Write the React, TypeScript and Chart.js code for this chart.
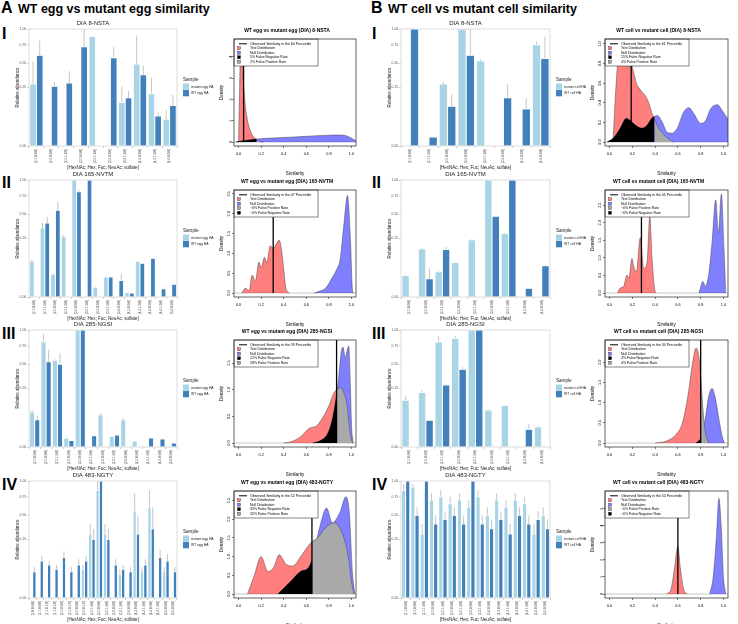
import React, { useEffect, useRef } from 'react';
import { Chart, registerables } from 'chart.js';
Chart.register(...registerables);

const FONT = "'Liberation Sans', Arial, sans-serif";
Chart.defaults.font.family = FONT;

const LIGHT = '#a9d4e6';
const DARK = '#4180ba';

// ---------------- Bar chart data (relative abundance; err = extent above bar) ----------------
const A1_CATS = ['[2,1,0,0,0]', '[2,2,0,0,0]', '[2,2,1,0,0]', '[3,2,0,0,0]', '[3,2,1,0,0]', '[3,3,0,0,0]', '[3,3,1,0,0]', '[4,3,0,0,0]', '[4,3,1,0,0]', '[4,4,0,0,0]'];
const A1_MUT = [0.28, null, null, null, 0.88, null, 0.14, 0.49, 0.2, 0.052];
const A1_MUT_ERR = [0.24, null, null, null, 0, null, 0.12, 0.4, 0.14, 0.043];
const A1_WT = [0.6, 0.26, 0.29, 0.72, null, 0.57, 0.17, 0.37, 0.066, 0.12];
const A1_WT_ERR = [0.21, 0.04, 0.12, 0.28, null, 0.15, 0.05, 0.1, 0.015, 0.07];

const A2_CATS = ['[2,1,0,0,0]', '[2,1,1,0,0]', '[2,2,0,0,0]', '[2,2,1,0,0]', '[3,2,0,0,0]', '[3,2,1,0,0]', '[3,3,0,0,0]', '[3,3,1,0,0]', '[3,4,0,0,0]', '[4,3,0,0,0]', '[4,3,1,0,0]', '[4,4,0,0,0]', '[4,4,1,0,0]', '[5,4,0,0,0]'];
const A2_MUT = [0.094, 0.35, 0.038, 0.27, 1.0, null, 0.007, 0.029, null, 0.0014, 0.092, null, null, null];
const A2_MUT_ERR = [0.01, 0.05, 0.004, 0.012, 0, null, 0.0015, 0.002, null, 0, 0.003, null, null, null];
const A2_WT = [null, 0.4, 0.55, null, 0.81, 1.0, null, 0.029, 0.02, 0.0012, 0.083, 0.11, 0.005, 0.012];
const A2_WT_ERR = [null, 0.07, 0.11, null, 0.035, 0, null, 0.002, 0.02, 0, 0, 0, 0, 0];

const A3_CATS = ['[2,1,0,0,0]', '[2,2,0,0,0]', '[2,2,1,0,0]', '[2,3,0,0,0]', '[3,2,0,0,0]', '[3,2,1,0,0]', '[3,3,0,0,0]', '[3,3,1,0,0]', '[3,4,0,0,0]', '[4,3,0,0,0]', '[4,3,1,0,0]', '[4,4,0,0,0]', '[5,4,0,0,0]'];
const A3_MUT = [0.089, 0.81, 0.55, 0.0055, 1.0, null, 0.076, 0.0083, 0.054, 0.0026, null, null, null];
const A3_MUT_ERR = [0.009, 0.12, 0.013, 0.001, 0, null, 0.008, 0, 0.008, 0, null, null, null];
const A3_WT = [0.054, 0.53, 0.5, 0.0032, 1.0, 0.0093, null, 0.0105, null, null, 0.0059, 0.0046, 0.0012];
const A3_WT_ERR = [0.017, 0.16, 0.14, 0, 0, 0, null, 0, null, null, 0, 0.001, 0];

const A4_CATS = ['[1,0,0,0,0]', '[1,1,0,0,0]', '[1,1,0,1,0]', '[1,1,0,2,0]', '[2,1,0,0,0]', '[2,1,0,1,0]', '[2,2,0,0,0]', '[2,2,0,1,0]', '[2,2,1,0,0]', '[3,2,0,0,0]', '[3,2,1,0,0]', '[3,3,0,0,0]', '[3,3,1,0,0]', '[3,4,0,0,0]', '[4,3,0,0,0]', '[4,3,1,0,0]', '[4,4,0,0,0]', '[4,4,1,0,0]', '[5,4,0,0,0]', '[5,5,0,0,0]'];
const A4_MUT = [null, null, null, null, null, null, null, 0.06, 0.3, 0.85, 0.3, null, 0.04, null, 0.55, 0.05, 0.6, null, 0.05, null];
const A4_MUT_ERR = [null, null, null, null, null, null, null, 0.02, 0.1, 0.15, 0.1, null, 0.02, null, 0.25, 0.02, 0.25, null, 0.02, null];
const A4_WT = [0.05, 0.1, 0.08, 0.06, 0.12, 0.05, 0.08, 0.1, 0.25, 1.0, 0.25, 0.08, 0.06, 0.05, 0.3, 0.08, 0.35, 0.12, 0.1, 0.05];
const A4_WT_ERR = [0.02, 0.03, 0.02, 0.02, 0.04, 0.02, 0.03, 0.03, 0.1, 0, 0.1, 0.03, 0.02, 0.02, 0.2, 0.03, 0.25, 0.05, 0.04, 0.02];

const B1_CATS = ['[2,1,0,0,0]', '[2,1,1,0,0]', '[2,2,0,0,0]', '[3,2,0,0,0]', '[3,2,1,0,0]', '[3,3,0,0,0]', '[4,3,0,0,0]', '[4,4,0,0,0]'];
const B1_MUT = [null, null, 0.28, 1.0, 0.53, null, null, 0.75];
const B1_MUT_ERR = [null, null, 0.02, 0, 0.02, null, null, 0.04];
const B1_WT = [1.0, 0.006, 0.116, 0.6, null, 0.17, 0.1, 0.56];
const B1_WT_ERR = [0, 0, 0.08, 0.4, null, 0.11, 0.067, 0.31];

const B2_CATS = ['[2,1,0,0,0]', '[2,2,0,0,0]', '[2,2,1,0,0]', '[3,2,0,0,0]', '[3,2,1,0,0]', '[3,3,0,0,0]', '[3,3,1,0,0]', '[4,3,0,0,0]', '[4,4,0,0,0]'];
const B2_MUT = [0.034, 0.17, 0.047, 0.087, 0.239, 1.0, 0.294, null, null];
const B2_MUT_ERR = [0.003, 0.005, 0.003, 0.003, 0.006, 0, 0.008, null, null];
const B2_WT = [null, 0.024, 0.165, null, null, 0.476, 1.0, 0.0055, 0.071];
const B2_WT_ERR = [null, 0.034, 0.019, null, null, 0.01, 0, 0, 0.004];

const B3_CATS = ['[2,1,0,0,0]', '[2,2,0,0,0]', '[2,2,1,0,0]', '[3,2,0,0,0]', '[3,2,1,0,0]', '[3,3,0,0,0]', '[3,3,1,0,0]', '[4,3,0,0,0]', '[4,4,0,0,0]'];
const B3_MUT = [0.16, 0.217, 0.805, 0.862, 1.0, 0.1, 0.126, null, 0.029];
const B3_MUT_ERR = [0.024, 0.019, 0.095, 0.043, 0, 0.003, 0.003, null, 0.003];
const B3_WT = [null, 0.052, 0.28, 0.443, 1.0, null, null, 0.023, null];
const B3_WT_ERR = [null, 0, 0.015, 0.023, 0, null, null, 0.015, null];

const B4_CATS = ['[1,1,0,0,0]', '[2,1,0,0,0]', '[2,1,1,0,0]', '[2,2,0,0,0]', '[2,2,1,0,0]', '[3,2,0,0,0]', '[3,2,1,0,0]', '[3,3,0,0,0]', '[3,3,1,0,0]', '[3,4,0,0,0]', '[4,3,0,0,0]', '[4,3,1,0,0]', '[4,4,0,0,0]', '[4,4,1,0,0]', '[5,4,0,0,0]', '[5,5,0,0,0]'];
const B4_MUT = [0.85, 0.9, 0.3, 0.7, 0.75, 0.65, 0.7, 0.6, 0.75, 0.5, 0.7, 0.6, 0.7, 0.65, 0.3, 0.5];
const B4_MUT_ERR = [0.1, 0.05, 0.1, 0.1, 0.1, 0.1, 0.1, 0.1, 0.1, 0.1, 0.1, 0.1, 0.1, 0.1, 0.1, 0.1];
const B4_WT = [1.0, 0.5, 1.0, 0.4, 0.45, 0.5, 0.4, 1.0, 0.4, 0.35, 0.45, 0.3, 0.5, 0.4, 0.45, 0.35];
const B4_WT_ERR = [0, 0.1, 0, 0.1, 0.1, 0.1, 0.1, 0, 0.1, 0.1, 0.1, 0.1, 0.1, 0.1, 0.1, 0.1];

// ---------------- Density data: [similarity, density] ----------------
const A1_TEST = [[0, 0], [0.01, 2.6], [0.02, 4.6], [0.03, 4.1], [0.04, 3.1], [0.05, 2.3], [0.06, 1.7], [0.08, 1.0], [0.1, 0.6], [0.12, 0.35], [0.14, 0.2], [0.16, 0.1], [0.18, 0.04], [0.2, 0.01], [0.22, 0]];
const A1_NULL = [[-0.02, 0], [0, 0.02], [0.05, 0.06], [0.1, 0.1], [0.16, 0.14], [0.2, 0.16], [0.3, 0.19], [0.4, 0.21], [0.5, 0.24], [0.6, 0.27], [0.7, 0.3], [0.8, 0.32], [0.88, 0.33], [0.95, 0.3], [1.0, 0.18], [1.04, 0.06]];
const A2_TEST = [[0.03, 0], [0.06, 0.12], [0.095, 0.06], [0.12, 0.45], [0.15, 0.3], [0.18, 0.78], [0.2, 0.64], [0.23, 0.9], [0.25, 0.76], [0.28, 1.19], [0.31, 1.13], [0.34, 1.27], [0.36, 1.33], [0.38, 1.1], [0.4, 0.6], [0.42, 0.12], [0.45, 0]];
const A2_NULL = [[0.67, 0], [0.72, 0.05], [0.77, 0.12], [0.84, 0.44], [0.87, 0.6], [0.9, 0.85], [0.93, 1.65], [0.965, 2.46], [0.99, 1.4], [1.01, 0.04], [1.02, 0]];
const A3_TEST = [[0.4, 0], [0.46, 0.02], [0.55, 0.12], [0.63, 0.28], [0.69, 0.32], [0.74, 0.46], [0.8, 0.7], [0.84, 0.92], [0.868, 1.0], [0.9, 1.04], [0.93, 0.95], [0.96, 0.7], [0.98, 0.3], [1.0, 0.05], [1.01, 0]];
const A3_NULL = [[0.66, 0], [0.72, 0.04], [0.78, 0.14], [0.82, 0.35], [0.85, 0.65], [0.868, 0.9], [0.89, 1.3], [0.91, 1.72], [0.925, 1.8], [0.945, 1.6], [0.96, 1.72], [0.975, 1.82], [0.99, 1.1], [1.0, 0.35], [1.015, 0]];
const A4_TEST = [[0.08, 0], [0.14, 0.5], [0.2, 1.0], [0.26, 0.6], [0.31, 0.7], [0.36, 1.05], [0.42, 0.8], [0.48, 0.75], [0.55, 1.0], [0.62, 1.3], [0.65, 1.4], [0.7, 1.5], [0.78, 1.8], [0.85, 1.9], [0.92, 1.6], [0.97, 1.0], [1.0, 0.3], [1.02, 0]];
const A4_NULL = [[0.35, 0], [0.45, 0.3], [0.55, 0.6], [0.62, 0.7], [0.65, 0.9], [0.72, 1.8], [0.78, 2.3], [0.83, 1.9], [0.9, 2.2], [0.95, 2.6], [0.98, 2.2], [1.01, 0.5], [1.03, 0]];
const B1_TEST = [[0.03, 0], [0.035, 0.1], [0.05, 0.44], [0.07, 0.78], [0.1, 0.92], [0.13, 0.95], [0.17, 0.76], [0.19, 0.79], [0.21, 0.72], [0.235, 0.6], [0.26, 0.55], [0.285, 0.51], [0.315, 0.47], [0.344, 0.4], [0.37, 0.3], [0.394, 0.24], [0.42, 0.16], [0.48, 0.07], [0.535, 0.015], [0.56, 0]];
const B1_NULL = [[-0.02, 0], [0.035, 0.04], [0.094, 0.14], [0.147, 0.24], [0.18, 0.22], [0.24, 0.16], [0.285, 0.14], [0.33, 0.17], [0.37, 0.24], [0.394, 0.26], [0.42, 0.27], [0.46, 0.21], [0.506, 0.1], [0.55, 0.09], [0.594, 0.14], [0.653, 0.31], [0.697, 0.35], [0.74, 0.29], [0.8, 0.19], [0.844, 0.22], [0.888, 0.34], [0.947, 0.38], [0.99, 0.32], [1.035, 0.24], [1.06, 0.18]];
const B2_TEST = [[0.07, 0], [0.094, 0.14], [0.124, 0.19], [0.153, 0.51], [0.17, 0.42], [0.197, 0.98], [0.21, 0.79], [0.235, 0.6], [0.27, 1.58], [0.3, 0.7], [0.33, 0.88], [0.353, 2.18], [0.373, 0.98], [0.397, 0.09], [0.41, 0]];
const B2_NULL = [[0.785, 0], [0.82, 0.33], [0.84, 0.19], [0.87, 0.51], [0.9, 1.44], [0.932, 2.65], [0.956, 1.72], [0.982, 2.82], [1.006, 1.16], [1.02, 0]];
const B3_TEST = [[0.4, 0], [0.5, 0.05], [0.58, 0.2], [0.64, 0.5], [0.69, 1.2], [0.73, 2.0], [0.76, 2.35], [0.79, 2.0], [0.8, 1.6], [0.82, 0.8], [0.84, 0.25], [0.87, 0]];
const B3_NULL = [[0.76, 0], [0.8, 0.1], [0.84, 0.6], [0.87, 1.15], [0.9, 1.35], [0.93, 1.1], [0.96, 0.6], [0.99, 0.15], [1.01, 0]];
const B4_TEST = [[0.5, 0], [0.54, 0.3], [0.57, 1.5], [0.6, 2.8], [0.62, 1.6], [0.65, 0.3], [0.68, 0]];
const B4_NULL = [[0.88, 0], [0.91, 1.0], [0.94, 3.5], [0.96, 5.6], [0.98, 4.0], [1.0, 1.0], [1.02, 0]];

const YMAX = [4.65, 2.5, 1.86, 2.65, 1.01, 2.82, 2.45, 5.8];
const YTICKS = [[0, 1, 2, 3, 4], [0, 0.5, 1, 1.5, 2, 2.5], [0, 0.5, 1, 1.5], [0, 0.5, 1, 1.5, 2, 2.5], [0, 0.2, 0.4, 0.6, 0.8, 1.0], [0, 0.5, 1, 1.5, 2, 2.5], [0, 0.5, 1, 1.5, 2], [0, 1, 2, 3, 4, 5]];
const YDEC = [0, 1, 1, 1, 1, 1, 1, 0];
const OBS = [0.045, 0.307, 0.868, 0.65, 0.19, 0.28, 0.8, 0.6];
const THR = [0.16, 0.55, 0.868, 0.65, 0.394, 0.6, 0.8, 0.8];
const PCT = [60, 47, 59, 52, 61, 45, 34, 50];
const FN = ['5% False Negative Rate', '~0% False Negative Rate', '12% False Negative Rate', '33% False Negative Rate', '15% False Negative Rate', '~0% False Negative Rate', '4% False Negative Rate', '~0% False Negative Rate'];
const FP = ['2% False Positive Rate', '~0% False Positive Rate', '28% False Positive Rate', '32% False Positive Rate', '4% False Positive Rate', '~0% False Positive Rate', '4% False Positive Rate', '~0% False Positive Rate'];
const FP_FIRST = [false, true, false, false, false, true, false, true];
const SITES = ['8-NSTA', '165-NVTM', '285-NGSI', '483-NGTY'];

const X_TICKS = [0, 0.2, 0.4, 0.6, 0.8, 1.0];

// ---------------- layout ----------------
const BAR_TOP = [29, 180, 330, 481];
const DEN_TOP = [39, 190, 340, 491];
const BAR_H = 117;
const DEN_H = 107;

function barPlugin(vals: any[][], errs: any[][], labels: string[]) {
  return {
    id: 'barExtras',
    afterDatasetsDraw(chart: any) {
      const ctx = chart.ctx;
      const ys = chart.scales.y;
      ctx.save();
      ctx.strokeStyle = '#b8b8b8';
      ctx.lineWidth = 0.8;
      vals.forEach((arr, di) => {
        const meta = chart.getDatasetMeta(di);
        arr.forEach((v: any, i: number) => {
          const e = errs[di][i];
          if (v == null || !e) return;
          const el = meta.data[i];
          const yTop = ys.getPixelForValue(Math.sqrt(Math.min(1, v + e)));
          ctx.beginPath();
          ctx.moveTo(el.x, el.y);
          ctx.lineTo(el.x, yTop);
          ctx.stroke();
        });
      });
      ctx.restore();
    },
    afterDraw(chart: any) {
      const ctx = chart.ctx;
      const a = chart.chartArea;
      ctx.save();
      ctx.strokeStyle = '#d4d4d4';
      ctx.lineWidth = 0.8;
      ctx.strokeRect(a.left, a.top, a.right - a.left, a.bottom - a.top);
      const lx = a.right + 6;
      const my = (a.top + a.bottom) / 2;
      ctx.textBaseline = 'middle';
      ctx.textAlign = 'left';
      ctx.fillStyle = '#222';
      ctx.font = `4.6px ${FONT}`;
      ctx.fillText('Sample', lx, my - 7.5);
      ctx.fillStyle = LIGHT;
      ctx.fillRect(lx, my - 4, 6, 6.3);
      ctx.fillStyle = DARK;
      ctx.fillRect(lx, my + 2.5, 6, 6.3);
      ctx.fillStyle = '#222';
      ctx.font = `3.4px ${FONT}`;
      ctx.fillText(labels[0], lx + 8, my - 0.85);
      ctx.fillText(labels[1], lx + 8, my + 5.65);
      ctx.restore();
    },
  };
}

function BarPanel(props: any) {
  const { plotLeft, plotTop, plotWidth, title, cats, mut, mutErr, wt, wtErr, labels } = props;
  const WY = 20, HT = 11, HX = 24, LEGW = 44;
  const W = WY + plotWidth + LEGW;
  const H = HT + BAR_H + HX;
  const ref = useRef<HTMLCanvasElement>(null);
  useEffect(() => {
    const sq = (arr: any[]) => arr.map((v) => (v == null ? null : Math.sqrt(v)));
    const chart = new Chart(ref.current as HTMLCanvasElement, {
      type: 'bar',
      data: {
        labels: cats,
        datasets: [
          { label: labels[0], data: sq(mut), backgroundColor: LIGHT, borderColor: 'rgba(255,255,255,0.85)', borderWidth: 0.5, categoryPercentage: 0.9, barPercentage: 1.0 },
          { label: labels[1], data: sq(wt), backgroundColor: DARK, borderColor: 'rgba(255,255,255,0.85)', borderWidth: 0.5, categoryPercentage: 0.9, barPercentage: 1.0 },
        ],
      } as any,
      options: {
        animation: false,
        responsive: false,
        maintainAspectRatio: false,
        events: [],
        layout: { padding: { left: 0, right: LEGW, top: 0, bottom: 0 } },
        plugins: {
          legend: { display: false },
          tooltip: { enabled: false },
          title: { display: true, text: title, color: '#222', font: { size: 6, weight: 'normal', lineHeight: 1 }, padding: { top: 2, bottom: 3 } },
        },
        scales: {
          x: {
            type: 'category',
            afterFit: (s: any) => { s.height = HX; },
            grid: { display: true, drawOnChartArea: false, tickLength: 2, color: '#999', lineWidth: 0.5 },
            border: { display: false },
            ticks: { autoSkip: false, minRotation: 90, maxRotation: 90, padding: 1, color: '#555', font: { size: 3.2, lineHeight: 1 } },
            title: { display: true, text: '[HexNAc; Hex; Fuc; NeuAc; sulfate]', color: '#222', font: { size: 4.5, lineHeight: 1 }, padding: { top: 0, bottom: 0 } },
          },
          y: {
            type: 'linear',
            min: 0,
            max: 1,
            afterFit: (s: any) => { s.width = WY; },
            afterBuildTicks: (s: any) => { s.ticks = [0, 0.25, 0.5, 0.75, 1].map((v) => ({ value: Math.sqrt(v) })); },
            grid: { display: true, drawOnChartArea: false, tickLength: 2, color: '#999', lineWidth: 0.5 },
            border: { display: false },
            ticks: { padding: 0.8, color: '#555', font: { size: 3.4, lineHeight: 1 }, callback: (v: any) => (v * v).toFixed(2) },
            title: { display: true, text: 'Relative abundance', color: '#222', font: { size: 4.5, lineHeight: 1 }, padding: { top: 6.5, bottom: 0 } },
          },
        },
      } as any,
      plugins: [barPlugin([mut, wt], [mutErr, wtErr], labels)],
    });
    return () => chart.destroy();
  }, []);
  return (
    <canvas
      ref={ref}
      width={W}
      height={H}
      style={{ position: 'absolute', left: plotLeft - WY, top: plotTop - HT, width: W, height: H }}
    />
  );
}

function densPlugin(items: any[]) {
  return {
    id: 'densExtras',
    afterDatasetsDraw(chart: any) {
      const ctx = chart.ctx;
      const a = chart.chartArea;
      ctx.save();
      const w = 84, h = 27;
      ctx.fillStyle = '#fff';
      ctx.fillRect(a.left, a.top, w, h);
      ctx.strokeStyle = '#333';
      ctx.lineWidth = 0.6;
      ctx.strokeRect(a.left, a.top, w, h);
      ctx.font = `3.5px ${FONT}`;
      ctx.textBaseline = 'middle';
      ctx.textAlign = 'left';
      items.forEach((it, i) => {
        const cy = a.top + 4.8 + i * 4.5;
        if (it.type === 'line') {
          ctx.strokeStyle = '#000';
          ctx.lineWidth = 1;
          ctx.beginPath();
          ctx.moveTo(a.left + 5, cy);
          ctx.lineTo(a.left + 13, cy);
          ctx.stroke();
        } else {
          ctx.fillStyle = it.color;
          ctx.fillRect(a.left + 3.5, cy - 1.5, 3, 3);
          ctx.strokeStyle = '#000';
          ctx.lineWidth = 0.3;
          ctx.strokeRect(a.left + 3.5, cy - 1.5, 3, 3);
        }
        ctx.fillStyle = '#000';
        ctx.fillText(it.text, a.left + 16, cy);
      });
      ctx.strokeStyle = '#222';
      ctx.lineWidth = 0.7;
      ctx.strokeRect(a.left, a.top, a.right - a.left, a.bottom - a.top);
      ctx.restore();
    },
  };
}

function DensityPanel(props: any) {
  const { boxLeft, boxTop, boxWidth, title, test, nul, idx } = props;
  const WYD = 16, HTD = 13, HXD = 31, RP = 3;
  const W = WYD + boxWidth + RP;
  const H = HTD + DEN_H + HXD;
  const ref = useRef<HTMLCanvasElement>(null);
  useEffect(() => {
    const M = YMAX[idx];
    const thr = THR[idx];
    const obs = OBS[idx];
    const pts = (arr: number[][]) => arr.map((p) => ({ x: p[0], y: p[1] }));
    const common = { pointRadius: 0, cubicInterpolationMode: 'monotone' };
    const datasets = [
      { ...common, data: [{ x: obs, y: 0 }, { x: obs, y: M * 1.04 }], borderColor: '#000', borderWidth: 1.3, fill: false },
      { ...common, data: pts(test.filter((p: number[]) => p[0] >= thr)), backgroundColor: '#a9a9a9', borderColor: '#777', borderWidth: 0.4, fill: { value: 0 } },
      { ...common, data: pts(nul.filter((p: number[]) => p[0] <= thr)), backgroundColor: '#000', borderColor: '#000', borderWidth: 0.4, fill: { value: 0 } },
      { ...common, data: pts(nul), backgroundColor: 'rgba(0,0,255,0.5)', borderColor: '#444', borderWidth: 0.5, fill: { value: 0 } },
      { ...common, data: pts(test), backgroundColor: 'rgba(255,0,0,0.5)', borderColor: '#444', borderWidth: 0.5, fill: { value: 0 } },
      { ...common, data: [{ x: -0.04, y: 0 }, { x: 1.04, y: 0 }], borderColor: '#bbb', borderWidth: 0.8, fill: false },
    ];
    const fnItem = { type: 'box', color: '#000', text: FN[idx] };
    const fpItem = { type: 'box', color: '#a9a9a9', text: FP[idx] };
    const items = [
      { type: 'line', text: `Observed Similarity in the ${PCT[idx]} Percentile` },
      { type: 'box', color: 'rgba(255,0,0,0.5)', text: 'Test Distribution' },
      { type: 'box', color: 'rgba(0,0,255,0.5)', text: 'Null Distribution' },
      ...(FP_FIRST[idx] ? [fpItem, fnItem] : [fnItem, fpItem]),
    ];
    const dec = YDEC[idx];
    const chart = new Chart(ref.current as HTMLCanvasElement, {
      type: 'line',
      data: { datasets } as any,
      options: {
        animation: false,
        responsive: false,
        maintainAspectRatio: false,
        events: [],
        layout: { padding: { left: 0, right: RP, top: 0, bottom: 0 } },
        plugins: {
          legend: { display: false },
          tooltip: { enabled: false },
          title: { display: true, text: title, color: '#000', font: { size: 5, weight: 'bold', lineHeight: 1 }, padding: { top: 2, bottom: 6 } },
        },
        scales: {
          x: {
            type: 'linear',
            min: -0.04,
            max: 1.04,
            afterFit: (s: any) => { s.height = HXD; },
            afterBuildTicks: (s: any) => { s.ticks = X_TICKS.map((v) => ({ value: v })); },
            grid: { display: true, drawOnChartArea: false, tickLength: 2, color: '#000', lineWidth: 0.5 },
            border: { display: false },
            ticks: { padding: 4.5, color: '#000', font: { size: 3.8, lineHeight: 1 }, callback: (v: any) => Number(v).toFixed(1) },
            title: { display: true, text: 'Similarity', color: '#000', font: { size: 4.5, lineHeight: 1 }, padding: { top: 0, bottom: 1 } },
          },
          y: {
            type: 'linear',
            min: -0.04 * M,
            max: 1.04 * M,
            afterFit: (s: any) => { s.width = WYD; },
            afterBuildTicks: (s: any) => { s.ticks = YTICKS[idx].map((v) => ({ value: v })); },
            grid: { display: true, drawOnChartArea: false, tickLength: 2, color: '#000', lineWidth: 0.5 },
            border: { display: false },
            ticks: { padding: 0, minRotation: 90, maxRotation: 90, crossAlign: 'center', color: '#000', font: { size: 3.8, lineHeight: 1 }, callback: (v: any) => Number(v).toFixed(dec) },
            title: { display: true, text: 'Density', color: '#000', font: { size: 4.5, lineHeight: 1 }, padding: { top: 1.8, bottom: 0 } },
          },
        },
      } as any,
      plugins: [densPlugin(items)],
    });
    return () => chart.destroy();
  }, []);
  return (
    <canvas
      ref={ref}
      width={W}
      height={H}
      style={{ position: 'absolute', left: boxLeft - WYD, top: boxTop - HTD, width: W, height: H }}
    />
  );
}

const A_BARS = [
  { cats: A1_CATS, mut: A1_MUT, mutErr: A1_MUT_ERR, wt: A1_WT, wtErr: A1_WT_ERR },
  { cats: A2_CATS, mut: A2_MUT, mutErr: A2_MUT_ERR, wt: A2_WT, wtErr: A2_WT_ERR },
  { cats: A3_CATS, mut: A3_MUT, mutErr: A3_MUT_ERR, wt: A3_WT, wtErr: A3_WT_ERR },
  { cats: A4_CATS, mut: A4_MUT, mutErr: A4_MUT_ERR, wt: A4_WT, wtErr: A4_WT_ERR },
];
const B_BARS = [
  { cats: B1_CATS, mut: B1_MUT, mutErr: B1_MUT_ERR, wt: B1_WT, wtErr: B1_WT_ERR },
  { cats: B2_CATS, mut: B2_MUT, mutErr: B2_MUT_ERR, wt: B2_WT, wtErr: B2_WT_ERR },
  { cats: B3_CATS, mut: B3_MUT, mutErr: B3_MUT_ERR, wt: B3_WT, wtErr: B3_WT_ERR },
  { cats: B4_CATS, mut: B4_MUT, mutErr: B4_MUT_ERR, wt: B4_WT, wtErr: B4_WT_ERR },
];
const A_DENS = [[A1_TEST, A1_NULL], [A2_TEST, A2_NULL], [A3_TEST, A3_NULL], [A4_TEST, A4_NULL]];
const B_DENS = [[B1_TEST, B1_NULL], [B2_TEST, B2_NULL], [B3_TEST, B3_NULL], [B4_TEST, B4_NULL]];

const ROMAN = ['I', 'II', 'III', 'IV'];
const ROMAN_TOP = [28, 177, 328, 479];

export default function App() {
  const headStyle: any = { position: 'absolute', fontFamily: FONT, fontWeight: 'bold', color: '#000', whiteSpace: 'nowrap', lineHeight: 1 };
  return (
    <div style={{ position: 'absolute', left: 0, top: 0, width: 738, height: 624, background: '#fff', overflow: 'hidden' }}>
      <div style={{ ...headStyle, left: 1, top: 0, fontSize: 16 }}>A</div>
      <div style={{ ...headStyle, left: 18, top: 3, fontSize: 12.5 }}>WT egg vs mutant egg similarity</div>
      <div style={{ ...headStyle, left: 371, top: 0, fontSize: 16 }}>B</div>
      <div style={{ ...headStyle, left: 388, top: 3, fontSize: 12.5 }}>WT cell vs mutant cell similarity</div>
      {ROMAN.map((r, i) => (
        <React.Fragment key={r}>
          <div style={{ ...headStyle, left: 2, top: ROMAN_TOP[i] - 2, fontSize: 16 }}>{r}</div>
          <div style={{ ...headStyle, left: 372, top: ROMAN_TOP[i] - 2, fontSize: 16 }}>{r}</div>
        </React.Fragment>
      ))}
      {A_BARS.map((b, i) => (
        <BarPanel key={'ab' + i} plotLeft={29} plotTop={BAR_TOP[i]} plotWidth={148} title={`DIA ${SITES[i]}`} labels={['mutant egg HA', 'WT egg HA']} {...b} />
      ))}
      {B_BARS.map((b, i) => (
        <BarPanel key={'bb' + i} plotLeft={401} plotTop={BAR_TOP[i]} plotWidth={149} title={`DIA ${SITES[i]}`} labels={['mutant cell HA', 'WT cell HA']} {...b} />
      ))}
      {A_DENS.map((d, i) => (
        <DensityPanel key={'ad' + i} idx={i} boxLeft={234} boxTop={DEN_TOP[i]} boxWidth={122} title={`WT egg vs mutant egg (DIA) ${SITES[i]}`} test={d[0]} nul={d[1]} />
      ))}
      {B_DENS.map((d, i) => (
        <DensityPanel key={'bd' + i} idx={i + 4} boxLeft={605} boxTop={DEN_TOP[i]} boxWidth={123} title={`WT cell vs mutant cell (DIA) ${SITES[i]}`} test={d[0]} nul={d[1]} />
      ))}
    </div>
  );
}
